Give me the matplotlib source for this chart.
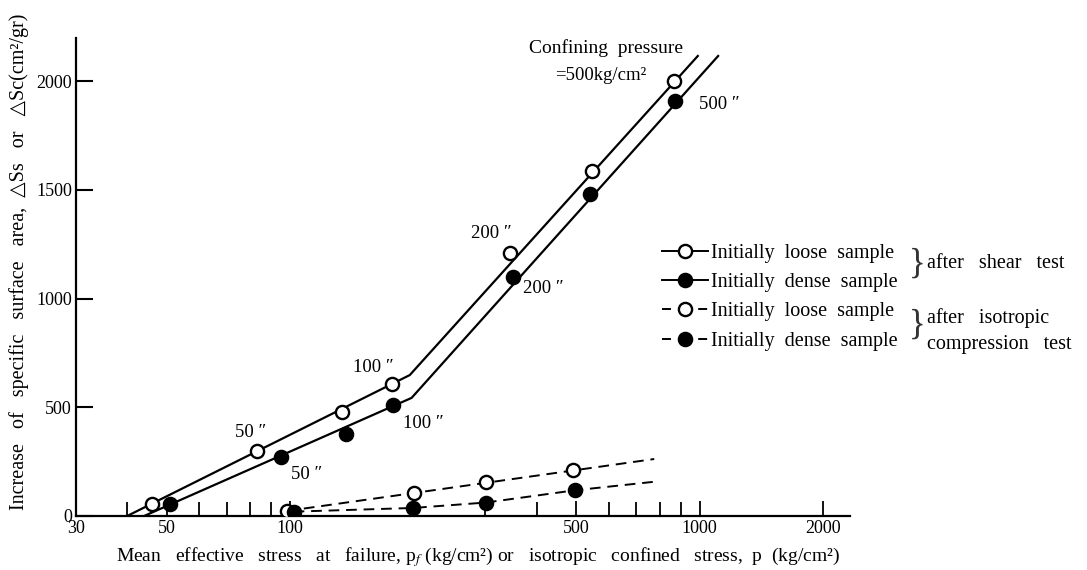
import matplotlib
matplotlib.use('Agg')
import matplotlib.pyplot as plt
from matplotlib.lines import Line2D
from matplotlib.ticker import FixedLocator, FixedFormatter, NullFormatter

plt.rcParams['font.family'] = ['Liberation Serif', 'DejaVu Serif']
plt.rcParams['mathtext.fontset'] = 'stix'

# ---------------- data ----------------
# after shear test: measured points
shear_loose_p = [46, 83, 134, 177, 345, 547, 867]
shear_loose_s = [55, 300, 480, 607, 1210, 1586, 2000]
shear_dense_p = [51, 95, 137, 178, 350, 540, 872]
shear_dense_s = [55, 270, 377, 510, 1100, 1480, 1910]

# after shear test: drawn trend lines (vertices)
loose_line_p = [40, 196, 990]
loose_line_s = [0, 648, 2115]
dense_line_p = [44, 198, 1110]
dense_line_s = [0, 543, 2115]

# after isotropic compression test: measured points
iso_loose_p = [98, 201, 301, 492]
iso_loose_s = [23, 106, 156, 211]
iso_dense_p = [102, 200, 301, 495]
iso_dense_s = [20, 37, 60, 120]

# after isotropic compression test: drawn dashed lines (vertices)
iso_loose_line_p = [98, 775]
iso_loose_line_s = [23, 262]
iso_dense_line_p = [102, 200, 301, 495, 780]
iso_dense_line_s = [20, 37, 62, 118, 158]

# confining-pressure labels
ann_text = ['50 \u2033', '50 \u2033', '100 \u2033', '100 \u2033',
            '200 \u2033', '200 \u2033', '500 \u2033']
ann_p = [80, 110, 160, 211, 310, 415, 1117]
ann_s = [382, 193, 685, 423, 1301, 1048, 1890]

x_major = [30, 50, 100, 500, 1000, 2000]
x_major_labels = ['30', '50', '100', '500', '1000', '2000']
x_minor = [40, 60, 70, 80, 90, 200, 300, 400, 600, 700, 800, 900]
y_ticks = [0, 500, 1000, 1500, 2000]

legend_labels = ['Initially  loose  sample', 'Initially  dense  sample',
                 'Initially  loose  sample', 'Initially  dense  sample']

# ---------------- figure ----------------
W, H = 1087, 570
fig = plt.figure(figsize=(W / 100, H / 100), dpi=100)
ax = fig.add_axes([76 / W, 1 - 516 / H, (850 - 76) / W, (516 - 37.5) / H])
ax.set_xscale('log')
ax.set_xlim(30, 2330)
ax.set_ylim(0, 2200)

for s in ('top', 'right'):
    ax.spines[s].set_visible(False)
for s in ('left', 'bottom'):
    ax.spines[s].set_linewidth(1.6)

lw_solid = 1.6
lw_dash = 1.4
dash = (0, (5.5, 3.5))
ms = 9.5

ax.plot(loose_line_p, loose_line_s, color='black', lw=lw_solid, zorder=2)
ax.plot(dense_line_p, dense_line_s, color='black', lw=lw_solid, zorder=2)
ax.plot(iso_loose_line_p, iso_loose_line_s, color='black', lw=lw_dash, ls=dash, zorder=2)
ax.plot(iso_dense_line_p, iso_dense_line_s, color='black', lw=lw_dash, ls=dash, zorder=2)

ax.plot(shear_loose_p, shear_loose_s, ls='none', marker='o', ms=ms,
        mfc='white', mec='black', mew=1.7, zorder=4)
ax.plot(shear_dense_p, shear_dense_s, ls='none', marker='o', ms=ms,
        mfc='black', mec='black', mew=1.7, zorder=4)
ax.plot(iso_loose_p, iso_loose_s, ls='none', marker='o', ms=ms,
        mfc='white', mec='black', mew=1.7, zorder=4)
ax.plot(iso_dense_p, iso_dense_s, ls='none', marker='o', ms=ms,
        mfc='black', mec='black', mew=1.7, zorder=4)

for t, px, sy in zip(ann_text, ann_p, ann_s):
    ax.text(px, sy, t, ha='center', va='center', fontsize=13.5)

ax.text(590, 2152, 'Confining  pressure', ha='center', va='center', fontsize=14)
ax.text(575, 2023, '=500kg/cm\u00b2', ha='center', va='center', fontsize=13.5)

# ticks
ax.xaxis.set_major_locator(FixedLocator(x_major))
ax.xaxis.set_major_formatter(FixedFormatter(x_major_labels))
ax.xaxis.set_minor_locator(FixedLocator(x_minor))
ax.xaxis.set_minor_formatter(NullFormatter())
ax.tick_params(axis='x', which='major', direction='in', length=11, width=1.3,
               labelsize=13, pad=3)
ax.tick_params(axis='x', which='minor', direction='in', length=10, width=1.3)
ax.set_yticks(y_ticks)
ax.set_yticklabels([str(v) for v in y_ticks])
ax.tick_params(axis='y', direction='in', length=12, width=1.5, labelsize=13, pad=3)

ax.set_xlabel('Mean   effective   stress   at   failure, p$_f$ (kg/cm\u00b2) or   isotropic   confined   stress,  p  (kg/cm\u00b2)',
              fontsize=14)
ax.xaxis.set_label_coords((478 - 76) / 774, (516 - 545) / 478.5)
ax.set_ylabel('Increase   of   specific   surface   area,  \u25b3Ss   or   \u25b3Sc(cm\u00b2/gr)', fontsize=14.5)
ax.yaxis.set_label_coords((29 - 76) / 774, (516 - 262) / 478.5)

# legend
h_ls = Line2D([], [], color='black', lw=1.4, marker='o', ms=ms, mfc='white', mec='black', mew=1.7)
h_ds = Line2D([], [], color='black', lw=1.4, marker='o', ms=ms, mfc='black', mec='black', mew=1.7)
leg_dash = (0, (4.6, 14.0))
h_li = Line2D([], [], color='black', lw=1.4, ls=leg_dash, marker='o', ms=ms, mfc='white', mec='black', mew=1.7)
h_di = Line2D([], [], color='black', lw=1.4, ls=leg_dash, marker='o', ms=ms, mfc='black', mec='black', mew=1.7)
leg = ax.legend([h_ls, h_ds, h_li, h_di], legend_labels, loc='upper left',
                bbox_to_anchor=(662 / W, 1 - 244 / H), bbox_transform=fig.transFigure,
                frameon=False, fontsize=14.5, handlelength=2.3, handletextpad=0.12,
                labelspacing=0.5, borderpad=0, borderaxespad=0)

fig.text(917 / W, 1 - 264 / H, '}', fontsize=25, ha='center', va='center', color='#333333')
fig.text(917 / W, 1 - 325 / H, '}', fontsize=25, ha='center', va='center', color='#333333')
fig.text(927 / W, 1 - 264 / H, 'after   shear   test', fontsize=14.5, ha='left', va='center')
fig.text(927 / W, 1 - 318 / H, 'after   isotropic', fontsize=14.5, ha='left', va='center')
fig.text(927 / W, 1 - 344 / H, 'compression   test', fontsize=14.5, ha='left', va='center')

fig.savefig('out.png', dpi=100)
